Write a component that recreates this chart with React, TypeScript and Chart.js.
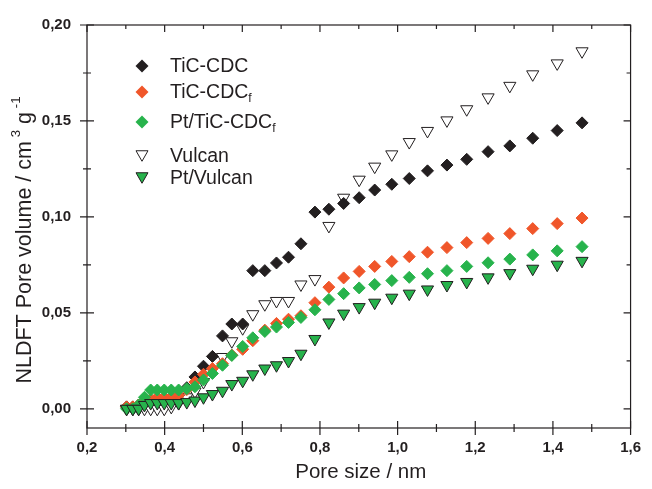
import React, { useEffect, useRef } from 'react';
import { Chart, registerables } from 'chart.js';

Chart.register(...registerables);

// ---- data ----
const poreSize = [0.302, 0.318, 0.333, 0.348, 0.364, 0.381, 0.399, 0.417, 0.436, 0.457, 0.478, 0.500, 0.523, 0.549, 0.573, 0.601, 0.627, 0.658, 0.688, 0.719, 0.751, 0.787, 0.823, 0.861, 0.901, 0.941, 0.985, 1.030, 1.077, 1.127, 1.178, 1.233, 1.289, 1.348, 1.411, 1.475];

const ticCdc = [0.001, 0.001, 0.002, 0.003, 0.004, 0.005, 0.005, 0.006, 0.007, 0.011, 0.0166, 0.0222, 0.0273, 0.038, 0.0442, 0.0442, 0.072, 0.072, 0.076, 0.079, 0.086, 0.1025, 0.104, 0.107, 0.110, 0.114, 0.117, 0.120, 0.124, 0.127, 0.130, 0.134, 0.137, 0.141, 0.145, 0.149];

const ticCdcF = [0.001, 0.001, 0.002, 0.004, 0.005, 0.006, 0.006, 0.006, 0.007, 0.010, 0.014, 0.018, 0.021, 0.0235, 0.028, 0.031, 0.0355, 0.041, 0.0445, 0.0467, 0.0485, 0.0553, 0.0634, 0.0682, 0.0716, 0.0742, 0.0768, 0.0793, 0.0816, 0.084, 0.0866, 0.0888, 0.0913, 0.0939, 0.0965, 0.0994];

const ptTicCdcF = [0.000, 0.000, 0.002, 0.006, 0.0098, 0.0098, 0.0098, 0.0098, 0.0098, 0.0105, 0.0115, 0.015, 0.0184, 0.0227, 0.0278, 0.0325, 0.037, 0.0403, 0.0426, 0.045, 0.0476, 0.0516, 0.057, 0.060, 0.063, 0.0648, 0.0668, 0.0685, 0.0704, 0.072, 0.0742, 0.0761, 0.078, 0.0802, 0.0823, 0.0845];

const vulcan = [0.000, 0.000, 0.000, 0.000, 0.000, 0.000, 0.000, 0.001, 0.003, 0.006, 0.009, 0.014, 0.020, 0.027, 0.0352, 0.042, 0.0493, 0.0545, 0.0562, 0.0562, 0.0648, 0.0676, 0.0953, 0.110, 0.1194, 0.1262, 0.1326, 0.139, 0.1448, 0.1503, 0.1561, 0.1623, 0.1683, 0.1743, 0.180, 0.1863];

const ptVulcan = [0.000, 0.000, 0.000, 0.002, 0.003, 0.003, 0.003, 0.003, 0.003, 0.0035, 0.0043, 0.006, 0.0077, 0.0094, 0.0129, 0.0146, 0.018, 0.021, 0.0227, 0.0249, 0.0287, 0.0364, 0.045, 0.0496, 0.053, 0.0553, 0.0579, 0.060, 0.0622, 0.0645, 0.0661, 0.0685, 0.0707, 0.073, 0.0751, 0.0771];

const xTickValues = [0.2, 0.4, 0.6, 0.8, 1.0, 1.2, 1.4, 1.6];
const xTickLabels = ['0,2', '0,4', '0,6', '0,8', '1,0', '1,2', '1,4', '1,6'];
const xMinorTicks = [0.3, 0.5, 0.7, 0.9, 1.1, 1.3, 1.5];
const yTickValues = [0, 0.05, 0.1, 0.15, 0.2];
const yTickLabels = ['0,00', '0,05', '0,10', '0,15', '0,20'];
const yMinorTicks = [0.025, 0.075, 0.125, 0.175];

const INK = '#231f20';
const ORANGE = '#f0562a';
const GREEN = '#27b34c';
const FONT = '"Liberation Sans", Arial, Helvetica, sans-serif';

type Part = { t: string; sup?: boolean; sub?: boolean };

function richWidth(ctx: CanvasRenderingContext2D, parts: Part[], fs: number) {
  let w = 0;
  for (const p of parts) {
    const s = p.sup || p.sub ? fs * 0.62 : fs;
    ctx.font = `${s}px ${FONT}`;
    w += ctx.measureText(p.t).width;
  }
  return w;
}

function drawRich(ctx: CanvasRenderingContext2D, parts: Part[], x: number, y: number, fs: number) {
  let cx = x;
  for (const p of parts) {
    const s = p.sup || p.sub ? fs * 0.62 : fs;
    ctx.font = `${s}px ${FONT}`;
    let dy = 0;
    if (p.sup) dy = -fs * 0.42;
    if (p.sub) dy = fs * 0.3;
    ctx.fillText(p.t, cx, y + dy);
    cx += ctx.measureText(p.t).width;
  }
}

function diamond(ctx: CanvasRenderingContext2D, x: number, y: number, r: number, fill: string) {
  ctx.beginPath();
  ctx.moveTo(x - r, y);
  ctx.lineTo(x, y - r);
  ctx.lineTo(x + r, y);
  ctx.lineTo(x, y + r);
  ctx.closePath();
  ctx.fillStyle = fill;
  ctx.fill();
}

function downTri(ctx: CanvasRenderingContext2D, x: number, y: number, w: number, h: number, fill: string) {
  ctx.beginPath();
  ctx.moveTo(x - w / 2, y - h / 2);
  ctx.lineTo(x + w / 2, y - h / 2);
  ctx.lineTo(x, y + h / 2);
  ctx.closePath();
  ctx.fillStyle = fill;
  ctx.fill();
  ctx.lineWidth = 1;
  ctx.strokeStyle = INK;
  ctx.stroke();
}

const legendItems: { parts: Part[]; kind: 'd' | 't'; fill: string }[] = [
  { parts: [{ t: 'TiC-CDC' }], kind: 'd', fill: INK },
  { parts: [{ t: 'TiC-CDC' }, { t: 'f', sub: true }], kind: 'd', fill: ORANGE },
  { parts: [{ t: 'Pt/TiC-CDC' }, { t: 'f', sub: true }], kind: 'd', fill: GREEN },
  { parts: [{ t: 'Vulcan' }], kind: 't', fill: '#ffffff' },
  { parts: [{ t: 'Pt/Vulcan' }], kind: 't', fill: GREEN },
];
const legendRowY = [66, 92, 122, 156, 178];

const decorPlugin = {
  id: 'decor',
  afterDraw(chart: any) {
    const { ctx, chartArea } = chart;
    const { left, right, top, bottom } = chartArea;
    const xs = chart.scales.x;
    const ys = chart.scales.y;
    ctx.save();
    ctx.strokeStyle = INK;
    ctx.lineWidth = 1.2;
    ctx.strokeRect(left, top, right - left, bottom - top);
    ctx.beginPath();
    const MAJ = 7;
    const MIN = 4;
    for (const v of xTickValues) {
      const p = xs.getPixelForValue(v);
      ctx.moveTo(p, bottom - MAJ); ctx.lineTo(p, bottom + MAJ);
      ctx.moveTo(p, top); ctx.lineTo(p, top + MAJ);
    }
    for (const v of xMinorTicks) {
      const p = xs.getPixelForValue(v);
      ctx.moveTo(p, bottom - MIN); ctx.lineTo(p, bottom + MIN);
      ctx.moveTo(p, top); ctx.lineTo(p, top + MIN);
    }
    for (const v of yTickValues) {
      const p = ys.getPixelForValue(v);
      ctx.moveTo(left - MAJ, p); ctx.lineTo(left + MAJ, p);
      ctx.moveTo(right, p); ctx.lineTo(right - MAJ, p);
    }
    for (const v of yMinorTicks) {
      const p = ys.getPixelForValue(v);
      ctx.moveTo(left - MIN, p); ctx.lineTo(left + MIN, p);
      ctx.moveTo(right, p); ctx.lineTo(right - MIN, p);
    }
    ctx.stroke();

    // axis titles
    ctx.fillStyle = INK;
    ctx.textBaseline = 'middle';
    const xParts: Part[] = [{ t: 'Pore size / nm' }];
    const xfs = 20.5;
    const xw = richWidth(ctx, xParts, xfs);
    drawRich(ctx, xParts, (left + right) / 2 + 2 - xw / 2, 472, xfs);

    const yfs = 21.5;
    const yParts: Part[] = [
      { t: 'NLDFT Pore volume / cm' },
      { t: ' 3', sup: true },
      { t: ' g' },
      { t: ' -1', sup: true },
    ];
    const yw = richWidth(ctx, yParts, yfs);
    ctx.save();
    ctx.translate(25, 240);
    ctx.rotate(-Math.PI / 2);
    drawRich(ctx, yParts, -yw / 2, 0, yfs);
    ctx.restore();

    // legend
    legendItems.forEach((it, i) => {
      const y = legendRowY[i];
      if (it.kind === 'd') diamond(ctx, 142, y, 6.5, it.fill);
      else downTri(ctx, 142, y, 12, 10.5, it.fill);
      ctx.fillStyle = INK;
      ctx.textBaseline = 'middle';
      drawRich(ctx, it.parts, 170, y + 1, 19.5);
    });
    ctx.restore();
  },
};

function pts(ys: number[]) {
  return poreSize.map((x, i) => ({ x, y: ys[i] }));
}

export default function App() {
  const ref = useRef<HTMLCanvasElement | null>(null);
  useEffect(() => {
    if (!ref.current) return;
    const diamondDs = (label: string, data: number[], color: string, order: number) => ({
      label,
      data: pts(data),
      pointStyle: 'rectRot',
      pointRadius: 6,
      pointBorderWidth: 1,
      backgroundColor: color,
      borderColor: color,
      showLine: false,
      order,
    });
    const triDs = (label: string, data: number[], fill: string, order: number) => ({
      label,
      data: pts(data),
      pointStyle: 'triangle',
      pointRotation: 180,
      pointRadius: 7,
      pointBorderWidth: 1,
      backgroundColor: fill,
      borderColor: INK,
      showLine: false,
      order,
    });
    const chart = new Chart(ref.current, {
      type: 'scatter',
      data: {
        datasets: [
          diamondDs('TiC-CDC', ticCdc, INK, 4),
          diamondDs('TiC-CDCf', ticCdcF, ORANGE, 3),
          diamondDs('Pt/TiC-CDCf', ptTicCdcF, GREEN, 2),
          triDs('Vulcan', vulcan, '#ffffff', 5),
          triDs('Pt/Vulcan', ptVulcan, GREEN, 1),
        ] as any,
      },
      options: {
        responsive: false,
        animation: false,
        layout: { padding: { left: 0, right: 13, top: 21, bottom: 0 } },
        plugins: { legend: { display: false }, tooltip: { enabled: false } },
        scales: {
          x: {
            type: 'linear',
            min: 0.2,
            max: 1.6,
            grid: { display: false, drawTicks: false },
            border: { display: false },
            afterBuildTicks: (s: any) => { s.ticks = xTickValues.map((v) => ({ value: v })); },
            afterFit: (s: any) => { s.height = 61; },
            ticks: {
              padding: 11,
              maxRotation: 0,
              autoSkip: false,
              color: INK,
              font: { family: FONT, size: 15, weight: 'bold' },
              callback: (_v: any, i: number) => xTickLabels[i],
            },
          },
          y: {
            type: 'linear',
            min: -0.01,
            max: 0.2,
            grid: { display: false, drawTicks: false },
            border: { display: false },
            afterBuildTicks: (s: any) => { s.ticks = yTickValues.map((v) => ({ value: v })); },
            afterFit: (s: any) => { s.width = 87; },
            ticks: {
              padding: 16,
              autoSkip: false,
              color: INK,
              font: { family: FONT, size: 15, weight: 'bold' },
              callback: (_v: any, i: number) => yTickLabels[i],
            },
          },
        },
      } as any,
      plugins: [decorPlugin],
    });
    return () => chart.destroy();
  }, []);
  return (
    <div style={{ position: 'absolute', left: 0, top: 0, width: 652, height: 489, background: '#fff' }}>
      <canvas ref={ref} width={652} height={489} />
    </div>
  );
}
